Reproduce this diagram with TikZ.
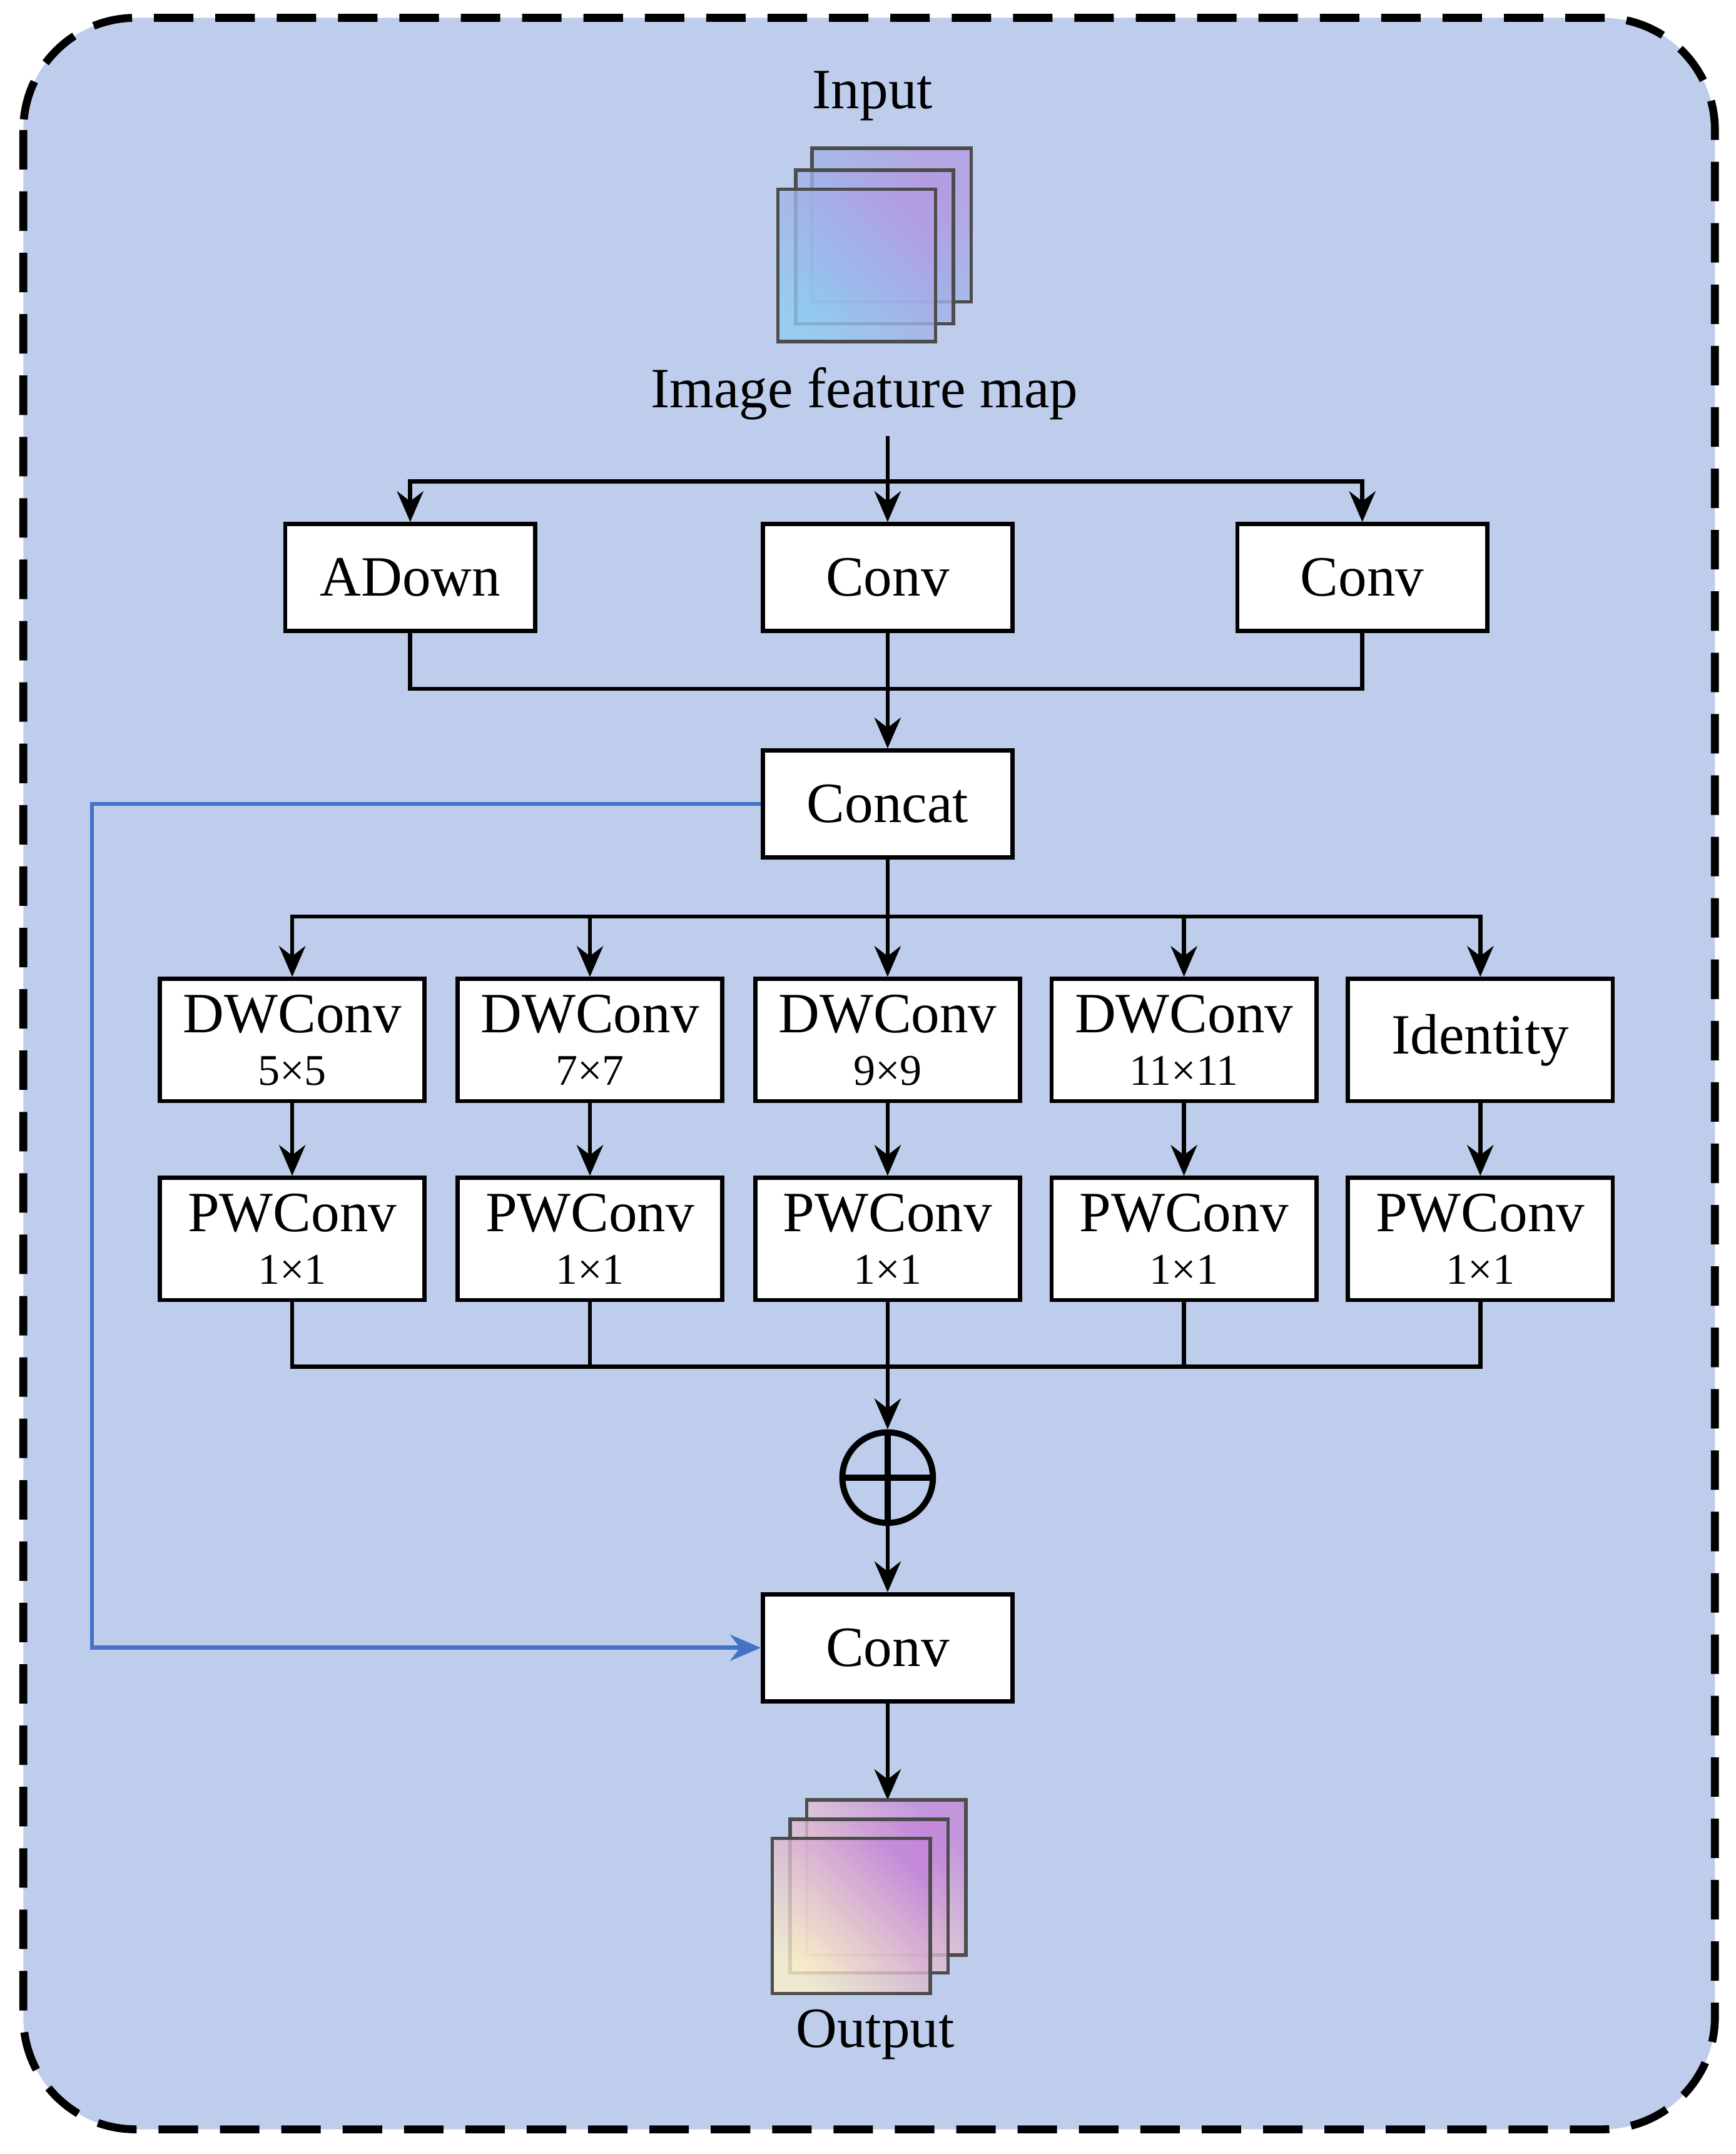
\documentclass[tikz,border=0pt]{standalone}
\usepackage{fontspec}
\setmainfont{Liberation Serif}
\usetikzlibrary{positioning,arrows.meta}
\definecolor{bgblue}{HTML}{BFCDEC}
\definecolor{linkblue}{HTML}{4472C4}
\definecolor{inlow}{HTML}{8FCBF0}
\definecolor{inhigh}{HTML}{B49BE2}
\definecolor{outlow}{HTML}{FAF0C8}
\definecolor{outhigh}{HTML}{C387DA}
\begin{document}
\begin{tikzpicture}[x=0.011cm, y=-0.011cm, >={Stealth[length=7pt,width=6pt]}, line width=0.95pt,
  blk/.style={draw, fill=white, minimum width=182*0.011cm, minimum height=78*0.011cm, font=\fontsize{13}{15}\selectfont},
  sblk/.style={draw, fill=white, minimum width=193*0.011cm, minimum height=89*0.011cm, align=center, font=\fontsize{13}{13}\selectfont},
  lbl/.style={font=\fontsize{13}{15}\selectfont},
  inmap/.style={draw=black!70, line width=0.8pt, left color=inlow, right color=inhigh, shading angle=135, fill opacity=0.8},
  outmap/.style={draw=black!70, line width=0.8pt, left color=outlow, right color=outhigh, shading angle=135, fill opacity=0.8}]

\useasboundingbox (0,0) rectangle (1265,1570);
\draw[dash pattern=on 9pt off 5pt, line width=1.8pt, fill=bgblue, rounded corners=0.9cm] (17,13) rectangle (1250,1552);

% input
\node[lbl] (in) at (636,70) {Input};
\draw[inmap] (592,108) rectangle (708,220);
\draw[inmap] (580,124) rectangle (695,236);
\draw[inmap] (567,138) rectangle (682,249);
\node[lbl] (ifm) at (630,287) {Image feature map};

% first row
\node[blk] (adown) at (299,421) {ADown};
\node[blk] (conv1) at (647,421) {Conv};
\node[blk] (conv2) at (993,421) {Conv};
\node[blk] (cat) at (647,586) {Concat};

\coordinate (s1) at (647,318);
\draw[->] (s1) -- (conv1);
\draw[->] (647,351) -| (adown);
\draw[->] (647,351) -| (conv2);
\draw (adown) |- (647,502);
\draw (conv2) |- (647,502);
\draw[->] (conv1) -- (cat);

% branches
\node[sblk] (dw1) at (213,758) {DWConv\\[-1pt]{\fontsize{10}{12}\selectfont 5×5}};
\node[sblk] (dw2) at (430,758) {DWConv\\[-1pt]{\fontsize{10}{12}\selectfont 7×7}};
\node[sblk] (dw3) at (647,758) {DWConv\\[-1pt]{\fontsize{10}{12}\selectfont 9×9}};
\node[sblk] (dw4) at (863,758) {DWConv\\[-1pt]{\fontsize{10}{12}\selectfont 11×11}};
\node[sblk] (dw5) at (1079,758) {Identity};
\foreach \i/\x in {1/213,2/430,3/647,4/863,5/1079}{
  \node[sblk] (pw\i) at (\x,903) {PWConv\\[-1pt]{\fontsize{10}{12}\selectfont 1×1}};
  \draw[->] (dw\i) -- (pw\i);
  \draw[->] (647,668) -| (dw\i);
  \draw (pw\i) |- (647,996);
}
\draw (cat) -- (647,668);

% sum and output
\node[draw, circle, minimum size=66*0.011cm, line width=1.4pt] (sum) at (647,1077) {};
\draw[line width=1.4pt] (sum.north) -- (sum.south) (sum.west) -- (sum.east);
\draw[->] (647,996) -- (sum);
\node[blk] (conv3) at (647,1201) {Conv};
\draw[->] (sum) -- (conv3);
\draw[->, linkblue] (cat.west) -- (67,586) |- (conv3.west);

\coordinate (out) at (647,1312);
\draw[->] (conv3) -- (out);
\draw[outmap] (588,1312) rectangle (704,1425);
\draw[outmap] (576,1326) rectangle (691,1438);
\draw[outmap] (563,1340) rectangle (678,1453);
\node[lbl] (outl) at (638,1483) {Output};
\end{tikzpicture}
\end{document}
